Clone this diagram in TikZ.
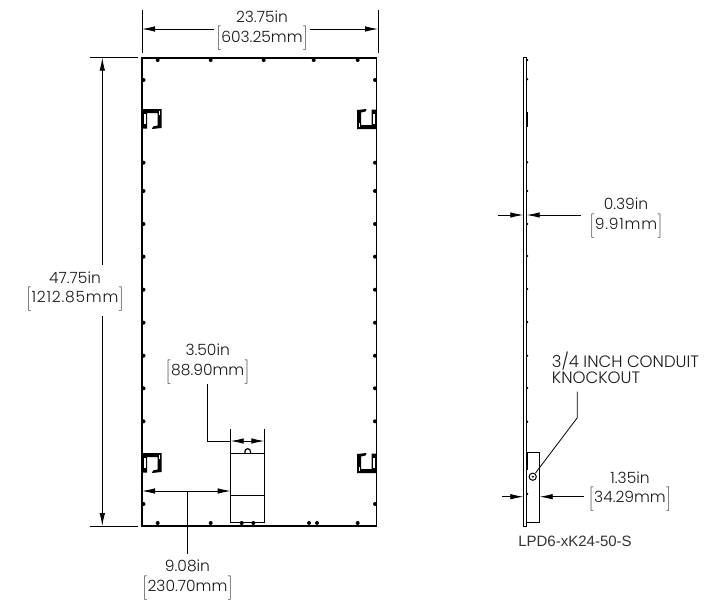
\documentclass[tikz,border=0pt]{standalone}
\usepackage{fontspec}
\setmainfont{Poppins Light}
\newfontfamily\partfont{Liberation Sans}
\usetikzlibrary{arrows.meta}
\newcommand{\mmtext}[1]{$\bigg[$\kern0.5pt#1\kern0.5pt$\bigg]$}
\tikzset{
    dimline/.style={line width=0.8pt, {Latex[length=13pt,width=5.5pt]}-{Latex[length=13pt,width=5.5pt]}},
    dimhalf/.style={line width=0.8pt, -{Latex[length=13pt,width=5.5pt]}},
    thin line/.style={line width=0.8pt},
    outline/.style={line width=1pt},
    dimtext/.style={inner sep=0pt, text=black!90, font=\fontsize{15.5}{17}\selectfont},
    wide text/.style={font=\fontsize{15.5}{17}\selectfont\addfontfeature{LetterSpace=5}},
    clip mark/.pic={
        \fill (0,0) -- (19.5,0) -- (19.5,19) -- (10,20) -- (11,17.5) -- (15.5,16.5) -- (15.5,4) -- (5,4) -- (5,19.5) -- (0,19.5) -- cycle;
        \fill[white] (1.5,5) rectangle (3.5,15);
        \fill[white] (16.5,2) rectangle (18,6);
    }
}
\begin{document}
\begin{tikzpicture}[x=1pt,y=-1pt]
    \useasboundingbox (0,0) rectangle (708,603);

    % front view
    \coordinate (TL) at (142,57.7);
    \coordinate (TR) at (376.5,57.7);
    \coordinate (BR) at (376.5,525.7);
    \coordinate (BL) at (142,525.7);
    \draw[line width=1.6pt] (TL)-- (TR)-- (BR)-- (BL)-- cycle;

    \foreach \x in {157.7,210.7,263.7,313.7,357.7}
        \fill (\x,60) circle (2);
    \foreach \x in {157.7,210.7,241.7,253.3,309,317,357.7}
        \fill (\x,523) circle (2);
    \foreach \y in {80,162.7,191,224,256.7,289.7,322.7,355.7,388.3,421.3,504}{
        \fill (143.5,\y) circle (2);
        \fill (375,\y) circle (2);
    }

    \pic at (142,109) {clip mark};
    \pic at (142,453) {clip mark};
    \pic[rotate=180] at (376.5,129) {clip mark};
    \pic[rotate=180] at (376.5,473) {clip mark};

    % junction box
    \coordinate (BoxA) at (230.7,453.3);
    \coordinate (BoxB) at (264.3,453.3);
    \coordinate (BoxC) at (264.3,522.3);
    \coordinate (BoxD) at (230.7,522.3);
    \draw[thin line] (BoxA)-- (BoxB)-- (BoxC)-- (BoxD)-- cycle;
    \draw[thin line] (230.7,495.3)-- (264.3,495.3);
    \draw[line width=1.2pt] (244.9,453.3)-- (244.9,451.5) arc (180:360:2.8)-- (250.5,453.3);

    % overall width
    \coordinate (WidthA) at (142,10);
    \coordinate (WidthB) at (142,53);
    \coordinate (WidthC) at (378,10);
    \coordinate (WidthD) at (378,53);
    \node[dimtext] (width) at (262,17) {23.75in};
    \node[dimtext] (widthmm) at (262,38.5) {\mmtext{603.25mm}};
    \draw[thin line] (WidthA)-- (WidthB);
    \draw[thin line] (WidthC)-- (WidthD);
    \draw[dimhalf] (214,29)-- (142,29);
    \draw[dimhalf] (310,29)-- (378,29);

    % overall height
    \coordinate (HeightA) at (90,57.7);
    \coordinate (HeightB) at (137.7,57.7);
    \coordinate (HeightC) at (90,526);
    \coordinate (HeightD) at (137.7,526);
    \node[dimtext] (height) at (75,277.7) {47.75in};
    \node[dimtext, wide text] (heightmm) at (75,299.3) {\mmtext{1212.85mm}};
    \draw[thin line] (HeightA)-- (HeightB);
    \draw[thin line] (HeightC)-- (HeightD);
    \draw[dimhalf] (102.3,265)-- (102.3,57.7);
    \draw[dimhalf] (102.3,316)-- (102.3,526);

    % box width
    \node[dimtext] (boxw) at (207.7,349.3) {3.50in};
    \node[dimtext] (boxwmm) at (207.7,371.7) {\mmtext{88.90mm}};
    \coordinate (BoxwA) at (230.7,429);
    \coordinate (BoxwB) at (264.3,429);
    \coordinate (BoxwC) at (207.3,441);
    \coordinate (BoxwD) at (207.3,384.3);
    \draw[thin line] (BoxwA)-- (BoxA);
    \draw[thin line] (BoxwB)-- (BoxB);
    \draw[thin line] (BoxwD)-- (BoxwC)-- (230.7,441);
    \draw[dimline] (230.7,441)-- (264.3,441);

    % box offset
    \node[dimtext] (offset) at (187.5,566) {9.08in};
    \node[dimtext] (offsetmm) at (187.5,588) {\mmtext{230.70mm}};
    \coordinate (OffsetA) at (187.3,491);
    \coordinate (OffsetB) at (187.3,554);
    \draw[dimline] (142,491)-- (230.7,491);
    \draw[thin line] (OffsetA)-- (OffsetB);

    % side view
    \coordinate (SideA) at (523.3,57.3);
    \coordinate (SideB) at (526.7,57.3);
    \coordinate (SideC) at (526.7,526.3);
    \coordinate (SideD) at (523.3,526.3);
    \draw[outline] (SideA)-- (SideB)-- (SideC)-- (SideD)-- cycle;
    \draw[thin line] (526.7,452.7)-- (539.7,452.7)-- (539.7,522.3)-- (526.7,522.3);
    \foreach \y in {60,79.3,162.3,191,224,256,289,322,355.7,388,421.7,494}
        \fill (527.3,\y) circle (1.1);
    \draw[line width=1.2pt] (527.4,111.7)-- (527.4,127.3);
    \draw[line width=1.2pt] (527.4,452)-- (527.4,470);
    \draw[outline] (532.7,476.7) circle (3.6);
    \fill (532.9,476.7) circle (1.1);

    % thickness
    \node[dimtext] (thick) at (626,203.3) {0.39in};
    \node[dimtext, wide text] (thickmm) at (626,225.7) {\mmtext{9.91mm}};
    \draw[dimhalf] (498,215)-- (523.3,215);
    \draw[dimhalf] (580.7,215)-- (526.7,215);

    % depth
    \node[dimtext] (depth) at (630,477.7) {1.35in};
    \node[dimtext] (depthmm) at (630,499) {\mmtext{34.29mm}};
    \draw[dimhalf] (502.3,496.7)-- (523.3,496.7);
    \draw[dimhalf] (584,496.7)-- (539.7,496.7);

    % knockout callout
    \node[dimtext, anchor=west, font=\fontsize{16.5}{18}\selectfont] (conduit) at (551.7,361.3) {3/4 INCH CONDUIT};
    \node[dimtext, anchor=west, font=\fontsize{16.5}{18}\selectfont] (knockout) at (551.7,377.3) {KNOCKOUT};
    \coordinate (LeaderA) at (577.3,391.7);
    \coordinate (LeaderB) at (577.3,417.7);
    \coordinate (LeaderC) at (535.5,473);
    \draw[thin line] (LeaderA)-- (LeaderB)-- (LeaderC);

    \node[inner sep=0pt, text=black!80, font=\partfont\fontsize{15}{17}\selectfont] (part) at (575,541.7) {LPD6-xK24-50-S};
\end{tikzpicture}
\end{document}
